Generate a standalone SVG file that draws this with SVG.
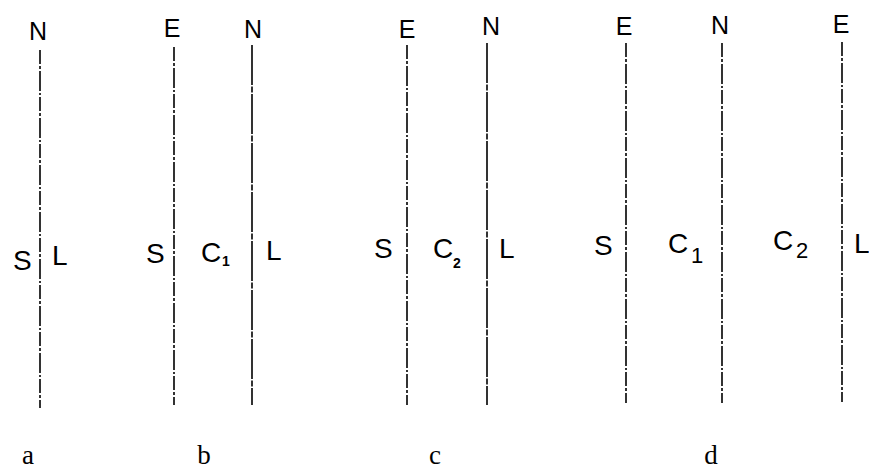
<svg xmlns="http://www.w3.org/2000/svg" width="869" height="469" viewBox="0 0 869 469">
  <style>
    .bg { fill: #ffffff; }
    .wall { stroke: #000; stroke-width: 1.6; fill: none; stroke-dasharray: 14 2 3 2 20 2 2 2; }
    .wall.solid { stroke-dasharray: 40 1.5 6 1.5; }
    .tag { font-family: "Liberation Sans", "DejaVu Sans", sans-serif; font-size: 25px; fill: #000; text-anchor: middle; }
    .zone { font-family: "Liberation Sans", "DejaVu Sans", sans-serif; font-size: 28px; fill: #000; }
    .sub { font-family: "Liberation Sans", "DejaVu Sans", sans-serif; font-size: 14px; font-weight: bold; fill: #000; }
    .subbig { font-family: "Liberation Sans", "DejaVu Sans", sans-serif; font-size: 22px; fill: #000; }
    .cap { font-family: "Liberation Serif", "Times New Roman", serif; font-size: 27px; fill: #000; text-anchor: middle; }
  </style>
  <rect class="bg" x="0" y="0" width="869" height="469"/>

  <!-- boundary lines between phases -->
  <g id="connectors">
    <line class="wall" x1="40" y1="50" x2="40" y2="408"/>
    <line class="wall" x1="174" y1="47" x2="174" y2="405"/>
    <line class="wall solid" x1="252" y1="45" x2="252" y2="405"/>
    <line class="wall" x1="407" y1="45" x2="407" y2="405"/>
    <line class="wall solid" x1="487" y1="43" x2="487" y2="405"/>
    <line class="wall" x1="626" y1="43" x2="626" y2="403"/>
    <line class="wall" x1="722" y1="43" x2="722" y2="403"/>
    <line class="wall" x1="842" y1="42" x2="842" y2="402"/>
  </g>

  <!-- panel a: S | L -->
  <g id="panel-a">
    <text class="tag" x="38" y="40">N</text>
    <text class="zone" x="13" y="270">S</text>
    <text class="zone" x="52" y="265">L</text>
    <text class="cap" x="28" y="464">a</text>
  </g>

  <!-- panel b: S | C1 | L -->
  <g id="panel-b">
    <text class="tag" x="172" y="37">E</text>
    <text class="tag" x="253" y="38">N</text>
    <text class="zone" x="146" y="263">S</text>
    <text class="zone" x="201" y="262">C</text>
    <text class="sub" x="222" y="266">1</text>
    <text class="zone" x="266" y="260">L</text>
    <text class="cap" x="204" y="464">b</text>
  </g>

  <!-- panel c: S | C2 | L -->
  <g id="panel-c">
    <text class="tag" x="407" y="38">E</text>
    <text class="tag" x="491" y="35">N</text>
    <text class="zone" x="374" y="258">S</text>
    <text class="zone" x="433" y="258">C</text>
    <text class="sub" x="453" y="268">2</text>
    <text class="zone" x="499" y="258">L</text>
    <text class="cap" x="435" y="464">c</text>
  </g>

  <!-- panel d: S | C1 | C2 | L -->
  <g id="panel-d">
    <text class="tag" x="624" y="35">E</text>
    <text class="tag" x="720" y="34">N</text>
    <text class="tag" x="841" y="33">E</text>
    <text class="zone" x="594" y="255">S</text>
    <text class="zone" x="668" y="253">C</text>
    <text class="subbig" x="691" y="263">1</text>
    <text class="zone" x="773" y="250">C</text>
    <text class="subbig" x="796" y="258">2</text>
    <text class="zone" x="854" y="253">L</text>
    <text class="cap" x="711" y="464">d</text>
  </g>
</svg>
